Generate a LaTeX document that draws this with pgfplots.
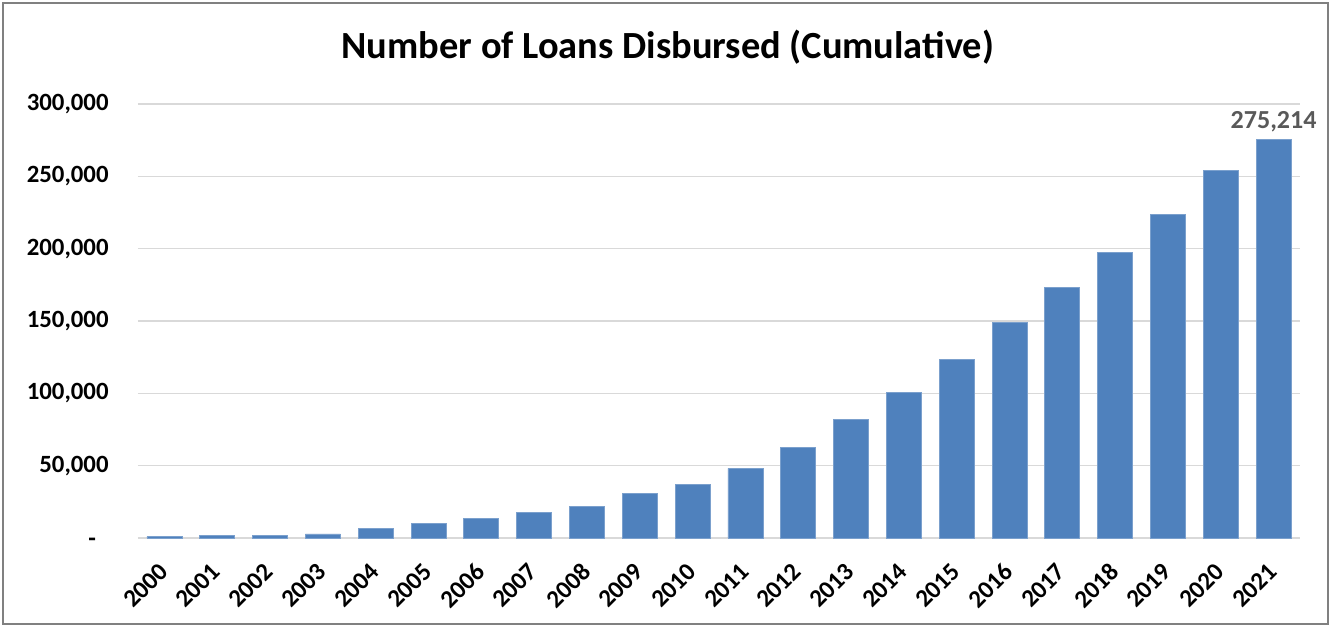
\documentclass[border=0pt]{standalone}
\usepackage{fontspec}
\setmainfont{Carlito}
\usepackage{pgfplots}
\usepackage{pgfplotstable}
\pgfplotsset{compat=1.18}
\definecolor{barblue}{HTML}{4F81BD}
\definecolor{gridgray}{HTML}{D9D9D9}
\definecolor{framegray}{HTML}{808080}
\definecolor{labelgray}{HTML}{595959}

\pgfplotstableread{
x year loans
0 2000 900
1 2001 1800
2 2002 1900
3 2003 2800
4 2004 6500
5 2005 10100
6 2006 13800
7 2007 17500
8 2008 21900
9 2009 31100
10 2010 37300
11 2011 48200
12 2012 62700
13 2013 81800
14 2014 100900
15 2015 123500
16 2016 149100
17 2017 173500
18 2018 197200
19 2019 223700
20 2020 254300
21 2021 275214
}\loans

\begin{document}
\begin{tikzpicture}
\begin{axis}[
  at={(0,0)}, anchor=south west,
  scale only axis, width=581pt, height=217pt,
  xmin=-0.5, xmax=21.5, ymin=0, ymax=300000,
  scaled y ticks=false,
  axis line style={draw=none},
  major tick length=0pt,
  ymajorgrids, grid style={gridgray, line width=0.75pt},
  xtick={0,...,21},
  xticklabels from table={\loans}{year},
  xticklabel style={font=\fontsize{12.5}{14}\selectfont\bfseries, xshift=-3.5pt, yshift=-11.5pt, rotate=45, anchor=north east, inner sep=0pt},
  ytick={0,50000,100000,150000,200000,250000,300000},
  yticklabels={{-\phantom{0}},{50,000},{100,000},{150,000},{200,000},{250,000},{300,000}},
  yticklabel style={font=\fontsize{12.4}{14}\selectfont\bfseries, anchor=east, inner sep=0pt, xshift=-14.5pt},
  title={Number of Loans Disbursed (Cumulative)},
  title style={font=\fontsize{19.2}{22}\selectfont\bfseries, at={(0.456,1)}, anchor=center, yshift=22.5pt},
  clip=false,
]
\addplot[ybar, bar width=17.5pt, bar shift=0pt, fill=barblue, draw=barblue!75!white, line width=0.4pt] table[x=x, y=loans] {\loans};
\addplot[draw=none, mark=none, nodes near coords, point meta=explicit symbolic,
  nodes near coords style={font=\fontsize{13}{15}\selectfont\bfseries, text=labelgray, anchor=south, yshift=0.5pt}]
  coordinates {(21,275214) [{275,214}]};
\end{axis}
\draw[framegray, line width=1pt] (-67.5pt,-43pt) rectangle (595pt,267.5pt);
\pgfresetboundingbox
\useasboundingbox (-69pt,-44pt) rectangle (597pt,269pt);
\end{tikzpicture}
\end{document}
